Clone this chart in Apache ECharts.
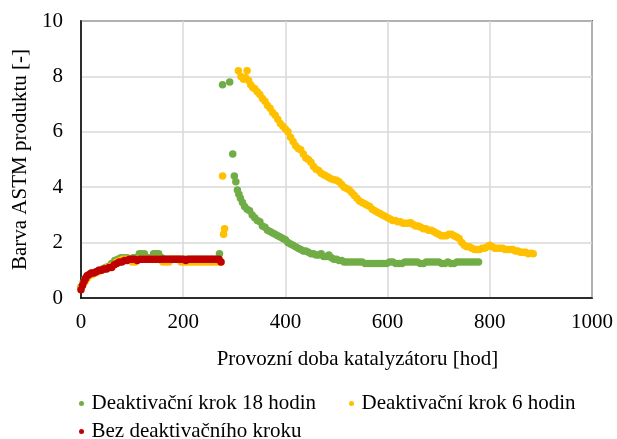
<!DOCTYPE html>
<html>
<head>
<meta charset="utf-8">
<script src="https://cdn.jsdelivr.net/npm/echarts@6/dist/echarts.min.js"></script>
<style>
  html, body { margin: 0; padding: 0; background: #fff; }
  #main { width: 617px; height: 439px; }
</style>
</head>
<body>
<div id="main"></div>
<script>
// [hours, ASTM colour]
let green18h = [
    [0,0.4],[4,0.55],[8,0.7],[12,0.8],[18,0.85],[24,0.9],[30,0.95],[36,1.0],[42,1.05],[48,1.1],
    [54,1.15],[60,1.25],[66,1.35],[72,1.4],[78,1.45],[84,1.45],[90,1.45],[96,1.4],[102,1.45],[108,1.45],
    [114,1.6],[119,1.6],[124,1.6],[130,1.45],[136,1.45],[142,1.6],[147,1.6],[152,1.6],[158,1.45],[164,1.4],
    [170,1.4],[176,1.4],[182,1.4],[188,1.4],[194,1.4],[200,1.4],[206,1.4],[212,1.4],[218,1.4],[224,1.4],
    [230,1.4],[236,1.4],[242,1.4],[248,1.4],[254,1.4],[260,1.4],[266,1.4],[271,1.6],
    [277,7.7],[291,7.8],[297,5.2],[300,4.4],[303,4.2],[306,3.9],[309,3.75],[312,3.6],[316,3.45],[320,3.3],
    [325,3.2],[330,3.15],[335,3.0],[340,2.9],[345,2.8],[350,2.75],[355,2.6],[360,2.55],[365,2.45],[370,2.4],
    [375,2.35],[380,2.3],[385,2.25],[390,2.2],[395,2.15],[400,2.1],[405,2.0],[410,1.95],[415,1.9],[420,1.85],
    [425,1.8],[430,1.75],[435,1.7],[440,1.7],[445,1.65],[450,1.6],[455,1.6],[460,1.55],[465,1.55],[470,1.6],
    [475,1.5],[480,1.5],[485,1.55],[490,1.45],[495,1.4],[500,1.4],[505,1.35],[510,1.35],[515,1.3],[520,1.3],
    [526,1.3],[532,1.3],[538,1.3],[544,1.3],[550,1.3],[556,1.25],[562,1.25],[568,1.25],[574,1.25],[580,1.25],
    [586,1.25],[592,1.25],[598,1.25],[604,1.3],[610,1.3],[616,1.25],[622,1.25],[628,1.25],[634,1.3],[640,1.3],
    [646,1.3],[652,1.3],[658,1.3],[664,1.25],[670,1.25],[676,1.3],[682,1.3],[688,1.3],[694,1.3],[700,1.3],
    [706,1.25],[712,1.25],[718,1.3],[724,1.25],[730,1.25],[736,1.3],[742,1.3],[748,1.3],[754,1.3],[760,1.3],
    [766,1.3],[772,1.3],[778,1.3]
];

let yellow6h = [
    [0,0.35],[4,0.5],[8,0.6],[12,0.7],[16,0.8],[22,0.85],[28,0.9],[34,0.95],[40,1.0],[46,1.05],
    [52,1.1],[58,1.15],[64,1.2],[70,1.3],[76,1.35],[82,1.4],[88,1.4],[94,1.4],[100,1.3],[106,1.3],
    [112,1.4],[118,1.4],[124,1.4],[130,1.4],[136,1.4],[142,1.4],[148,1.4],[154,1.4],[160,1.3],[166,1.3],
    [172,1.3],[178,1.4],[184,1.4],[190,1.4],[196,1.3],[202,1.3],[208,1.3],[214,1.3],[220,1.3],[226,1.3],
    [232,1.3],[238,1.3],[244,1.3],[250,1.3],[256,1.3],[262,1.3],[268,1.3],[274,1.3],
    [277,4.4],[279,2.3],[281,2.5],
    [308,8.2],[313,8.0],[318,7.9],[322,7.95],[325,8.2],[328,7.85],[332,7.7],[336,7.6],[340,7.55],[345,7.45],
    [350,7.35],[355,7.2],[360,7.1],[365,6.95],[370,6.85],[375,6.7],[380,6.6],[385,6.45],[390,6.3],[395,6.2],
    [400,6.1],[405,6.0],[410,5.8],[415,5.65],[420,5.5],[425,5.4],[430,5.35],[435,5.2],[440,5.05],[445,5.0],
    [450,4.9],[455,4.75],[460,4.65],[465,4.6],[470,4.5],[475,4.45],[480,4.4],[485,4.35],[490,4.3],[495,4.27],
    [500,4.25],[505,4.2],[510,4.1],[515,4.0],[520,3.95],[525,3.9],[530,3.8],[535,3.7],[540,3.6],[545,3.5],
    [550,3.45],[555,3.4],[560,3.35],[565,3.3],[570,3.2],[575,3.15],[580,3.1],[585,3.05],[590,3.0],[595,2.95],
    [600,2.9],[605,2.85],[610,2.8],[615,2.8],[620,2.75],[625,2.75],[630,2.7],[635,2.7],[640,2.7],[645,2.72],
    [650,2.65],[655,2.6],[660,2.6],[665,2.55],[670,2.5],[675,2.5],[680,2.45],[685,2.45],[690,2.4],[695,2.35],
    [700,2.3],[705,2.25],[710,2.25],[715,2.25],[720,2.3],[725,2.3],[730,2.25],[735,2.2],[740,2.15],[745,2.0],
    [750,1.9],[755,1.85],[760,1.85],[765,1.8],[770,1.75],[775,1.75],[780,1.75],[785,1.8],[790,1.8],[795,1.85],
    [800,1.9],[805,1.85],[810,1.8],[815,1.8],[820,1.8],[825,1.8],[830,1.75],[835,1.75],[840,1.75],[845,1.75],
    [850,1.7],[855,1.7],[860,1.65],[865,1.65],[870,1.65],[875,1.6],[880,1.62],[885,1.6]
];

let redNoStep = [
    [0,0.3],[3,0.45],[6,0.6],[9,0.7],[12,0.8],[16,0.85],[20,0.9],[25,0.9],[30,0.95],[35,1.0],
    [40,1.0],[45,1.05],[50,1.05],[55,1.1],[60,1.1],[65,1.2],[70,1.25],[75,1.3],[80,1.3],[85,1.35],
    [90,1.35],[95,1.4],[100,1.4],[105,1.4],[110,1.35],[115,1.4],[120,1.4],[125,1.4],[130,1.4],[135,1.4],
    [140,1.4],[145,1.4],[150,1.4],[155,1.4],[160,1.4],[165,1.4],[170,1.4],[175,1.4],[180,1.4],[185,1.4],
    [190,1.4],[195,1.4],[200,1.4],[205,1.35],[210,1.4],[215,1.4],[220,1.4],[225,1.4],[230,1.4],[235,1.4],
    [240,1.4],[245,1.4],[250,1.4],[255,1.4],[260,1.4],[265,1.4],[270,1.4],[274,1.3]
];

let seriesNames = ['Deaktivační krok 18 hodin', 'Deaktivační krok 6 hodin', 'Bez deaktivačního kroku'];
let seriesColors = ['#70AD47', '#FFC000', '#C00000'];
let xTicks = [0, 1000, 200];
let yTicks = [0, 10, 2];

let font = '"Liberation Serif", "Times New Roman", serif';
let fontSize = 21;
let chart = echarts.init(document.getElementById('main'));

let legendText = { fontFamily: font, fontSize: fontSize, color: '#000' };
let makeLegend = function(name, left, top) {
    return {
        data: [name], left: left, top: top,
        icon: 'circle', itemWidth: 10, itemHeight: 5, itemGap: 0,
        textStyle: legendText, selectedMode: false
    };
};

let option = {
    animation: false,
    backgroundColor: '#fff',
    grid: {
        left: 81, right: 25, top: 21, bottom: 141,
        show: true, borderColor: '#000', borderWidth: 1.5
    },
    legend: [
        makeLegend(seriesNames[0], 74, 388),
        makeLegend(seriesNames[1], 344, 388),
        makeLegend(seriesNames[2], 74, 416)
    ],
    xAxis: {
        type: 'value',
        min: xTicks[0], max: xTicks[1], interval: xTicks[2],
        name: 'Provozní doba katalyzátoru [hod]',
        nameLocation: 'middle', nameGap: 51,
        // title sits a little right of the plot centre in the original
        nameTextStyle: { fontFamily: font, fontSize: fontSize, color: '#000', padding: [0, 0, 0, 42] },
        axisLine: { show: true, lineStyle: { color: '#000', width: 1.5 } },
        axisTick: { show: false },
        axisLabel: {
            fontFamily: font, fontSize: fontSize, color: '#000', margin: 14,
            formatter: function(v) { return String(v); }
        },
        splitLine: { show: true, lineStyle: { color: '#d9d9d9', width: 1.5 } }
    },
    yAxis: {
        type: 'value',
        min: yTicks[0], max: yTicks[1], interval: yTicks[2],
        name: 'Barva ASTM produktu [-]',
        nameLocation: 'middle', nameGap: 50,
        nameTextStyle: { fontFamily: font, fontSize: fontSize, color: '#000' },
        axisLine: { show: true, lineStyle: { color: '#000', width: 1.5 } },
        axisTick: { show: false },
        axisLabel: { fontFamily: font, fontSize: fontSize, color: '#000', margin: 18 },
        splitLine: { show: true, lineStyle: { color: '#d9d9d9', width: 1.5 } }
    },
    series: [green18h, yellow6h, redNoStep].map(function(d, i) {
        return {
            name: seriesNames[i],
            type: 'scatter',
            symbol: 'circle',
            symbolSize: 7.5,
            itemStyle: { color: seriesColors[i], opacity: 1 },
            data: d
        };
    })
};
chart.setOption(option);
</script>
</body>
</html>
